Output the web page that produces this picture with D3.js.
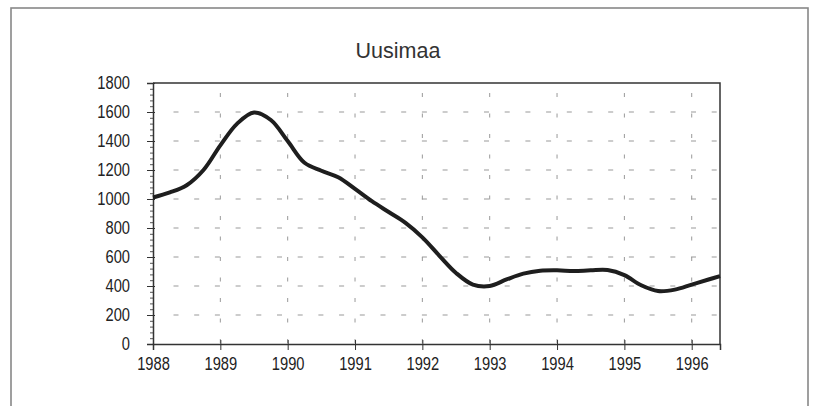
<!DOCTYPE html>
<html>
<head>
<meta charset="utf-8">
<script src="https://cdn.jsdelivr.net/npm/d3@7"></script>
<style>
  body { margin: 0; background: #fff; }
  svg { display: block; }
  .tick text { font-family: "Liberation Sans", Arial, sans-serif; font-size: 17.5px; fill: #222; }
</style>
</head>
<body>
<div id="wrapper"></div>
<script>
// quarterly points
const years = [
  1988.00, 1988.25, 1988.50, 1988.75,
  1989.00, 1989.25, 1989.50, 1989.75,
  1990.00, 1990.25, 1990.50, 1990.75,
  1991.00, 1991.25, 1991.50, 1991.75,
  1992.00, 1992.25, 1992.50, 1992.75,
  1993.00, 1993.25, 1993.50, 1993.75,
  1994.00, 1994.25, 1994.50, 1994.75,
  1995.00, 1995.25, 1995.50, 1995.75,
  1996.00, 1996.25, 1996.42
]
const values = [
  1010, 1045, 1095, 1200,
  1370, 1520, 1597, 1545,
  1400, 1250, 1195, 1150,
  1070, 985, 910, 835,
  735, 610, 490, 410,
  400, 445, 485, 505,
  508, 503, 508, 510,
  475, 405, 365, 375,
  410, 445, 468
]
const yearTicks = [1988, 1989, 1990, 1991, 1992, 1993, 1994, 1995, 1996]
const valueTicks = [0, 200, 400, 600, 800, 1000, 1200, 1400, 1600, 1800]
const title = "Uusimaa"

function drawLineChart() {
  const dataset = years.map((yr, i) => [yr, values[i]])
  const xAccessor = d => d[0]
  const yAccessor = d => d[1]

  let dimensions = {
    width: 813,
    height: 406,
    margin: { top: 83, right: 93, bottom: 62, left: 153 },
  }
  dimensions.boundedWidth = dimensions.width - dimensions.margin.left - dimensions.margin.right
  dimensions.boundedHeight = dimensions.height - dimensions.margin.top - dimensions.margin.bottom

  const wrapper = d3.select("#wrapper")
    .append("svg")
      .attr("width", dimensions.width)
      .attr("height", dimensions.height)

  // outer frame
  wrapper.append("rect")
      .attr("x", 11)
      .attr("y", 8)
      .attr("width", 797)
      .attr("height", 420)
      .attr("fill", "none")
      .attr("stroke", "#888")
      .attr("stroke-width", 1.6)

  wrapper.append("text")
      .attr("x", 398)
      .attr("y", 58)
      .attr("text-anchor", "middle")
      .style("font-family", "'Liberation Sans', Arial, sans-serif")
      .style("font-size", "21.5px")
      .style("fill", "#333")
      .text(title)

  const bounds = wrapper.append("g")
      .attr("transform", `translate(${dimensions.margin.left},${dimensions.margin.top})`)

  const xScale = d3.scaleLinear()
    .domain([1988, d3.max(years)])
    .range([0, dimensions.boundedWidth])

  const yScale = d3.scaleLinear()
    .domain([0, 1800])
    .range([dimensions.boundedHeight, 0])

  // dashed grid
  bounds.append("g")
    .selectAll("line")
    .data(valueTicks.filter(v => v > 0 && v < 1800))
    .join("line")
      .attr("x1", 20.5)
      .attr("x2", dimensions.boundedWidth)
      .attr("y1", d => yScale(d))
      .attr("y2", d => yScale(d))
      .attr("stroke", "#999")
      .attr("stroke-width", 1)
      .attr("stroke-dasharray", "5,15.7")

  bounds.append("g")
    .selectAll("line")
    .data(yearTicks.filter(v => v > 1988))
    .join("line")
      .attr("x1", d => xScale(d))
      .attr("x2", d => xScale(d))
      .attr("y1", 10)
      .attr("y2", dimensions.boundedHeight)
      .attr("stroke", "#999")
      .attr("stroke-width", 1)
      .attr("stroke-dasharray", "4,16.5")

  // box top and right
  bounds.append("path")
      .attr("d", `M0,0H${dimensions.boundedWidth}V${dimensions.boundedHeight}`)
      .attr("fill", "none")
      .attr("stroke", "#333")
      .attr("stroke-width", 1.5)

  // minor y ticks
  const yMinor = bounds.append("g")
    .call(d3.axisLeft(yScale).tickValues(d3.range(0, 1801, 40)).tickSize(3).tickFormat(""))
  yMinor.select(".domain").remove()
  yMinor.selectAll("line").attr("stroke", "#555")

  const yAxis = bounds.append("g")
    .call(d3.axisLeft(yScale).tickValues(valueTicks).tickSize(6).tickPadding(17).tickFormat(d3.format("d")))
  yAxis.select(".domain").attr("stroke", "#333").attr("stroke-width", 1.5)
  yAxis.selectAll(".tick line").attr("stroke", "#333").attr("x2", -6).attr("x1", 2)
  // condensed digits like the original
  yAxis.selectAll(".tick text")
      .attr("x", 0)
      .attr("transform", "translate(-23,0) scale(0.84,1)")

  const xAxis = bounds.append("g")
    .attr("transform", `translate(0,${dimensions.boundedHeight})`)
    .call(d3.axisBottom(xScale).tickValues(yearTicks).tickSize(6).tickPadding(8).tickFormat(d3.format("d")))
  xAxis.select(".domain").attr("stroke", "#333").attr("stroke-width", 1.5)
  xAxis.selectAll(".tick line").attr("stroke", "#333").attr("y1", -4)
  xAxis.selectAll(".tick text").attr("transform", "scale(0.84,1)")

  const lineGenerator = d3.line()
    .x(d => xScale(xAccessor(d)))
    .y(d => yScale(yAccessor(d)))
    .curve(d3.curveCatmullRom)

  bounds.append("path")
      .attr("d", lineGenerator(dataset))
      .attr("fill", "none")
      .attr("stroke", "#1e1e1e")
      .attr("stroke-width", 4)
      .attr("stroke-linejoin", "round")
}

drawLineChart()
</script>
</body>
</html>
